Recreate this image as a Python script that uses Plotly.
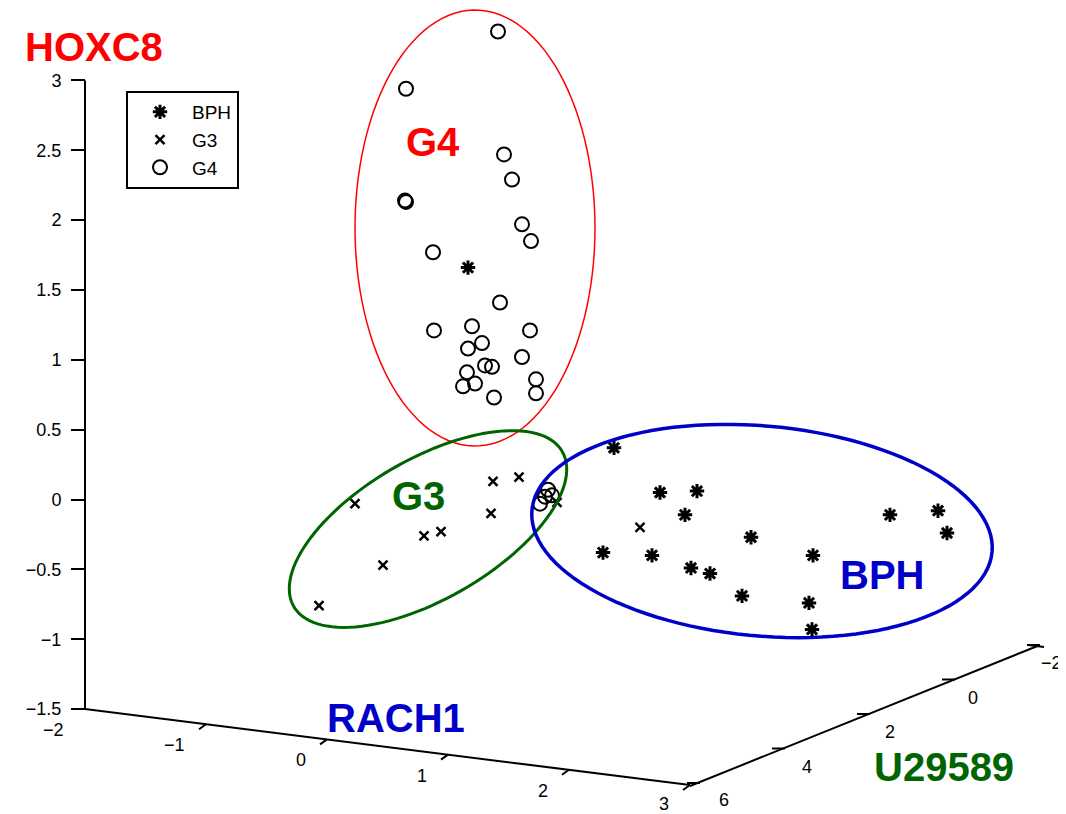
import numpy as np
import plotly.graph_objects as go

# ---------------- data ----------------
# vertical axis (HOXC8) ticks and the two receding axes' ticks
hoxc8_ticks = [-1.5, -1, -0.5, 0, 0.5, 1, 1.5, 2, 2.5, 3]
rach1_ticks = [-2, -1, 0, 1, 2, 3]
u29589_ticks = [6, 4, 2, 0, -2]

# projected horizontal position (screen units) and HOXC8 height of each sample
bph_x = [468, 614, 660, 697, 685, 603, 652, 691, 710, 742, 751, 813, 890, 938, 947, 809, 812]
bph_y = [1.66, 0.37, 0.05, 0.06, -0.11, -0.38, -0.40, -0.49, -0.53, -0.69, -0.27,
         -0.40, -0.11, -0.08, -0.24, -0.74, -0.93]

g3_x = [355, 493, 519, 491, 424, 441, 383, 319, 557, 640]
g3_y = [-0.03, 0.13, 0.16, -0.10, -0.26, -0.23, -0.47, -0.76, -0.02, -0.20]

g4_x = [498, 406, 405, 406, 504, 512, 522, 531, 433, 500, 434, 530, 472, 468, 482,
        485, 492, 467, 463, 475, 494, 522, 536, 536, 548, 552, 540, 545]
g4_y = [3.35, 2.94, 2.14, 2.13, 2.47, 2.29, 1.97, 1.85, 1.77, 1.41, 1.21, 1.21, 1.24, 1.08, 1.12,
        0.96, 0.95, 0.91, 0.81, 0.83, 0.73, 1.02, 0.86, 0.76, 0.07, 0.03, -0.03, 0.02]

# ---------------- geometry helpers ----------------
W, H = 1066, 814          # browser window
OFF = 8                   # default page margin of the html body
Y0PX, SCALE = 499.5, 139.7          # window row of HOXC8 = 0, pixels per unit


def yv(py):
    """window row -> HOXC8 data units"""
    return (Y0PX - py) / SCALE


def ellipse_path(cx, cy, a, b, theta_deg, n=120):
    th = np.deg2rad(theta_deg)
    t = np.linspace(0, 2 * np.pi, n)
    px = cx + a * np.cos(t) * np.cos(th) - b * np.sin(t) * np.sin(th)
    py = cy + a * np.cos(t) * np.sin(th) + b * np.sin(t) * np.cos(th)
    pts = [f"{x:.2f},{yv(y):.4f}" for x, y in zip(px, py)]
    return "M " + " L ".join(pts) + " Z"


FONT = "Liberation Sans, Arial, sans-serif"
RED, GREEN, BLUE = "#ff0000", "#006400", "#0000c8"

fig = go.Figure()

fig.add_trace(go.Scatter(
    x=bph_x, y=bph_y, mode="markers", name="BPH", legendgroup="a",
    marker=dict(symbol="asterisk-open", size=12, color="black",
                line=dict(color="black", width=3))))
fig.add_trace(go.Scatter(
    x=g3_x, y=g3_y, mode="markers", name="G3", legendgroup="b",
    marker=dict(symbol="x-thin-open", size=9, color="black",
                line=dict(color="black", width=2.5))))
fig.add_trace(go.Scatter(
    x=g4_x, y=g4_y, mode="markers", name="G4", legendgroup="c",
    marker=dict(symbol="circle-open", size=14, color="black",
                line=dict(color="black", width=2))))

shapes = []
# vertical HOXC8 axis line
shapes.append(dict(type="line", xref="x", yref="y", x0=85, x1=85,
                   y0=hoxc8_ticks[0], y1=hoxc8_ticks[-1],
                   line=dict(color="black", width=2)))

# RACH1 receding axis
r0 = np.array([85.0, 709.0])
r_step = np.array([121.0, 15.2])
r_end = r0 + r_step * (rach1_ticks[-1] - rach1_ticks[0])
shapes.append(dict(type="line", xref="x", yref="y", x0=r0[0], y0=yv(r0[1]),
                   x1=r_end[0], y1=yv(r_end[1]), line=dict(color="black", width=2)))
annotations = []
for v in rach1_ticks:
    p = r0 + r_step * (v - rach1_ticks[0])
    if v != rach1_ticks[0]:
        shapes.append(dict(type="line", xref="x", yref="y", x0=p[0], y0=yv(p[1]),
                           x1=p[0] - 7, y1=yv(p[1] + 5), line=dict(color="black", width=2)))
    annotations.append(dict(x=p[0] - 19, y=yv(min(p[1] + 21, 804)), xref="x", yref="y",
                            text=str(v).replace("-", "\u2212"), showarrow=False,
                            xanchor="right", yanchor="middle",
                            font=dict(family=FONT, size=18, color="black")))

# U29589 receding axis (value 6 at front, -2 at back)
u0 = np.array([700.0, 783.0])
u_step = np.array([-42.5, 17.25])    # per unit of U29589
u_end = u0 + u_step * (u29589_ticks[-1] - u29589_ticks[0])
shapes.append(dict(type="line", xref="x", yref="y", x0=690, y0=yv(786),
                   x1=u_end[0], y1=yv(u_end[1]), line=dict(color="black", width=2)))
shapes.append(dict(type="line", xref="x", yref="y", x0=u_end[0] - 12, y0=yv(u_end[1]),
                   x1=u_end[0] + 4, y1=yv(u_end[1] + 2), line=dict(color="black", width=2)))
for i, v in enumerate(u29589_ticks):
    p = u0 + u_step * (v - u29589_ticks[0])
    shapes.append(dict(type="line", xref="x", yref="y", x0=p[0], y0=yv(p[1]),
                       x1=p[0] - 13, y1=yv(p[1]), line=dict(color="black", width=2)))
    lx = min(p[0] + 17 - 2 * i, W - 27)
    annotations.append(dict(x=lx, y=yv(min(p[1] + 18, 800)), xref="x", yref="y",
                            text=str(v).replace("-", "\u2212"), showarrow=False,
                            xanchor="left", yanchor="middle",
                            font=dict(family=FONT, size=18, color="black")))

# group ellipses
shapes.append(dict(type="path", xref="x", yref="y", path=ellipse_path(475, 228, 120, 218, 0),
                   line=dict(color=RED, width=1.5)))
shapes.append(dict(type="path", xref="x", yref="y", path=ellipse_path(428, 529, 155, 70, -30),
                   line=dict(color=GREEN, width=3)))
shapes.append(dict(type="path", xref="x", yref="y", path=ellipse_path(762, 531, 231, 105, 5.2),
                   line=dict(color=BLUE, width=3.5)))

# big labels
for txt, x, py, col in [("HOXC8", 94, 47, RED), ("G4", 433, 142, RED), ("G3", 418, 496, GREEN),
                        ("BPH", 882, 575, BLUE), ("RACH1", 396, 718, BLUE),
                        ("U29589", 944, 767, GREEN)]:
    annotations.append(dict(x=x, y=yv(py), xref="x", yref="y", text=f"<b>{txt}</b>",
                            showarrow=False, xanchor="center", yanchor="middle",
                            font=dict(family=FONT, size=40, color=col)))

fig.update_layout(
    width=W - OFF, height=H - OFF,
    margin=dict(l=0, r=0, t=0, b=0),
    paper_bgcolor="white", plot_bgcolor="white",
    showlegend=True,
    legend=dict(x=(126 - OFF) / (W - OFF), y=1 - (91 - OFF) / (H - OFF),
                xanchor="left", yanchor="top",
                bordercolor="black", borderwidth=2, bgcolor="white",
                font=dict(family=FONT, size=19, color="black"),
                tracegroupgap=0, itemwidth=54, entrywidth=126, entrywidthmode="pixels"),
    xaxis=dict(range=[OFF, W], visible=False, fixedrange=True),
    yaxis=dict(range=[yv(H), yv(OFF)], anchor="free", position=(85 - OFF) / (W - OFF),
               showline=False, showgrid=False, zeroline=False,
               ticks="outside", ticklen=14, tickwidth=2, tickcolor="black",
               tickvals=hoxc8_ticks,
               ticktext=[f"{v:g}".replace("-", "\u2212") for v in hoxc8_ticks],
               tickfont=dict(family=FONT, size=18, color="black"),
               ticklabelstandoff=6, fixedrange=True),
    shapes=shapes,
    annotations=annotations,
)

fig.write_html("out.html")
